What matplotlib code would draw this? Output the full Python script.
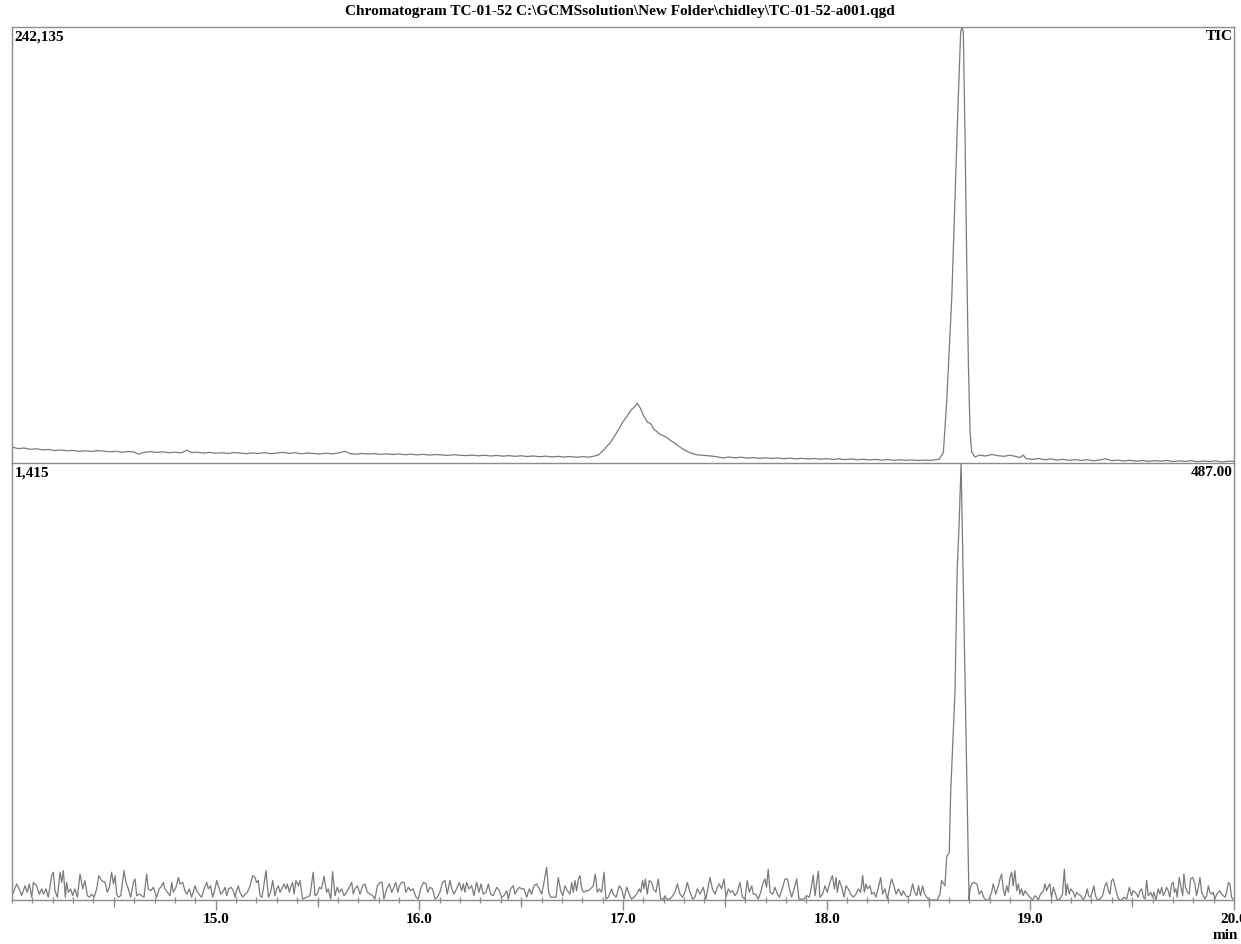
import matplotlib
matplotlib.use("Agg")
import matplotlib.pyplot as plt
from matplotlib.ticker import MultipleLocator, FuncFormatter

# ---------------- data ----------------
title = r"Chromatogram TC-01-52 C:\GCMSsolution\New Folder\chidley\TC-01-52-a001.qgd"
top_label_left = "242,135"
top_label_right = "TIC"
bot_label_left = "1,415"
bot_label_right = "487.00"
x_min, x_max = 14.0, 20.0
top_max = 242135
bot_max = 1415
labelled_ticks = [15.0, 16.0, 17.0, 18.0, 19.0, 20.0]

tic_time = [14.00, 14.03, 14.06, 14.09, 14.12, 14.15, 14.18, 14.21, 14.24, 14.27, 14.30, 14.33, 14.36, 14.39,
            14.42, 14.45, 14.48, 14.51, 14.54, 14.57, 14.60, 14.62, 14.65, 14.68, 14.71, 14.74, 14.77, 14.80,
            14.83, 14.86, 14.88, 14.91, 14.94, 14.97, 15.00, 15.03, 15.06, 15.09, 15.12, 15.15, 15.18, 15.21,
            15.24, 15.27, 15.30, 15.33, 15.36, 15.39, 15.42, 15.45, 15.48, 15.51, 15.54, 15.57, 15.60, 15.635,
            15.66, 15.69, 15.72, 15.75, 15.78, 15.81, 15.84, 15.87, 15.90, 15.93, 15.96, 15.99, 16.02, 16.05,
            16.08, 16.11, 16.14, 16.17, 16.20, 16.23, 16.26, 16.29, 16.32, 16.35, 16.38, 16.41, 16.44, 16.47,
            16.50, 16.53, 16.56, 16.59, 16.62, 16.65, 16.68, 16.71, 16.74, 16.77, 16.80, 16.83, 16.85,
            16.88, 16.91, 16.94, 16.97, 17.00, 17.02, 17.04, 17.06, 17.07, 17.085, 17.10, 17.12, 17.135, 17.15,
            17.18, 17.21, 17.24, 17.26, 17.29, 17.31, 17.33, 17.36, 17.40, 17.43, 17.46, 17.49,
            17.52, 17.55, 17.58, 17.61, 17.64, 17.67, 17.70, 17.73, 17.76, 17.79, 17.82, 17.85, 17.88, 17.91,
            17.94, 17.97, 18.00, 18.03, 18.06, 18.09, 18.12, 18.15, 18.18, 18.21, 18.24, 18.27, 18.30, 18.33,
            18.36, 18.39, 18.42, 18.45, 18.48, 18.51, 18.53,
            18.553, 18.573, 18.590, 18.614, 18.630, 18.646, 18.658, 18.665, 18.671, 18.679, 18.688, 18.696,
            18.704, 18.712, 18.728,
            18.75, 18.78, 18.81, 18.84, 18.87, 18.90, 18.93, 18.95, 18.965, 18.98, 19.01, 19.04, 19.07, 19.10,
            19.13, 19.16, 19.19, 19.22, 19.25, 19.28, 19.31, 19.34, 19.37, 19.40, 19.43, 19.46, 19.49, 19.52,
            19.55, 19.58, 19.61, 19.64, 19.67, 19.70, 19.73, 19.76, 19.79, 19.82, 19.85, 19.88, 19.91, 19.94,
            19.97, 20.00]
tic_int = [8900, 8000, 8300, 7600, 7900, 7300, 7500, 6900, 7200, 6800, 7000, 6500, 6800, 6400,
           6900, 6600, 6200, 6500, 6000, 6400, 6100, 4900, 6000, 6300, 5900, 6200, 5700, 6000,
           5600, 7100, 5800, 6000, 5500, 5900, 5400, 5700, 5300, 5800, 5500, 5200, 5600, 5300,
           5700, 5200, 5500, 5900, 5400, 5700, 5100, 5500, 5300, 5000, 5400, 5100, 5500, 6500,
           5200, 4900, 5300, 5000, 5200, 4800, 5100, 4700, 5000, 4600, 4900, 4500, 4800, 4400,
           4700, 4500, 4200, 4600, 4300, 4100, 4400, 4000, 4300, 3900, 4200, 3800, 4100, 3700,
           4000, 3600, 3900, 3500, 3800, 3400, 3700, 3300, 3600, 3200, 3500, 3300, 3600,
           4500, 7800, 11700, 17000, 23000, 26000, 29500, 31500, 33300, 30500, 26500, 22600, 22000, 19000,
           16100, 14500, 12000, 10500, 8000, 6800, 5600, 4600, 4200, 3900, 3500, 2800,
           3300, 2900, 3200, 2700, 3000, 2600, 2900, 2500, 2800, 2400, 2700, 2300, 2600, 2200,
           2500, 2100, 2400, 2000, 2300, 1900, 2200, 1800, 2100, 1700, 2000, 1600, 1900, 1500,
           1800, 1500, 1700, 1400, 1600, 1500, 1700,
           2200, 5900, 35500, 91100, 146600, 202200, 239400, 242135, 239400, 183800, 109400, 53900,
           17200, 6100, 3300,
           4400, 3900, 4700, 4100, 3700, 4300, 3600, 3000, 4400, 2400, 2000, 2500, 1800, 2300,
           1600, 2100, 1500, 1900, 1400, 1800, 1200, 1700, 2300, 1300, 1600, 1100, 1500, 1000,
           1400, 900, 1300, 1000, 1400, 800, 1200, 900, 1300, 700, 1100, 800, 1200, 600,
           1000, 900]

mz_time = [14.000, 14.003, 14.023, 14.039, 14.047, 14.064, 14.075, 14.085, 14.097, 14.105, 14.121, 14.134,
           14.146, 14.154, 14.167, 14.178, 14.195, 14.203, 14.211, 14.223, 14.236, 14.244, 14.252, 14.262,
           14.268, 14.277, 14.288, 14.298, 14.309, 14.321, 14.334, 14.347, 14.358, 14.370, 14.380, 14.391,
           14.403, 14.416, 14.426, 14.440, 14.457, 14.468, 14.478, 14.489, 14.498, 14.506, 14.514, 14.522,
           14.534, 14.550, 14.560, 14.571, 14.583, 14.596, 14.604, 14.612, 14.625, 14.637, 14.648, 14.661,
           14.669, 14.681, 14.694, 14.702, 14.710, 14.723, 14.735, 14.743, 14.751, 14.763, 14.776, 14.784,
           14.792, 14.805, 14.817, 14.825, 14.838, 14.849, 14.858, 14.871, 14.882, 14.899, 14.907, 14.923,
           14.931, 14.943, 14.956, 14.964, 14.975, 14.985, 14.997, 15.005, 15.013, 15.025, 15.034, 15.046,
           15.054, 15.064, 15.075, 15.087, 15.095, 15.103, 15.111, 15.119, 15.133, 15.144, 15.156, 15.169,
           15.182, 15.193, 15.201, 15.209, 15.218, 15.227, 15.234, 15.247, 15.259, 15.270, 15.280, 15.291,
           15.300, 15.308, 15.316, 15.324, 15.336, 15.345, 15.352, 15.362, 15.368, 15.378, 15.385, 15.394,
           15.406, 15.414, 15.427, 15.447, 15.463, 15.479, 15.488, 15.499, 15.509, 15.520, 15.532, 15.545,
           15.553, 15.565, 15.574, 15.586, 15.597, 15.607, 15.619, 15.630, 15.643, 15.656, 15.668, 15.676,
           15.684, 15.696, 15.709, 15.722, 15.733, 15.745, 15.758, 15.771, 15.782, 15.794, 15.807, 15.817,
           15.826, 15.840, 15.853, 15.864, 15.872, 15.884, 15.894, 15.902, 15.913, 15.925, 15.934, 15.946,
           15.957, 15.970, 15.984, 15.995, 16.006, 16.020, 16.033, 16.041, 16.052, 16.065, 16.077, 16.088,
           16.101, 16.114, 16.126, 16.137, 16.150, 16.160, 16.170, 16.183, 16.196, 16.208, 16.216, 16.224,
           16.232, 16.244, 16.257, 16.268, 16.281, 16.293, 16.303, 16.314, 16.327, 16.339, 16.350, 16.363,
           16.380, 16.393, 16.404, 16.416, 16.429, 16.437, 16.448, 16.461, 16.470, 16.478, 16.491, 16.502,
           16.514, 16.527, 16.540, 16.551, 16.563, 16.576, 16.589, 16.601, 16.612, 16.625, 16.635, 16.645,
           16.658, 16.671, 16.682, 16.694, 16.704, 16.715, 16.727, 16.740, 16.748, 16.756, 16.764, 16.772,
           16.781, 16.789, 16.797, 16.808, 16.818, 16.830, 16.841, 16.854, 16.864, 16.874, 16.884,
           16.895, 16.907, 16.916, 16.928, 16.944, 16.952, 16.966, 16.982, 16.993, 17.005, 17.018, 17.031,
           17.042, 17.054, 17.067, 17.080, 17.087, 17.096, 17.103, 17.110, 17.119, 17.129, 17.141, 17.149,
           17.162, 17.173, 17.185, 17.198, 17.206, 17.214, 17.227, 17.239, 17.255, 17.267, 17.280, 17.293,
           17.304, 17.316, 17.329, 17.342, 17.353, 17.365, 17.378, 17.386, 17.394, 17.407, 17.419, 17.427,
           17.439, 17.452, 17.463, 17.473, 17.484, 17.496, 17.506, 17.517, 17.529, 17.538, 17.550, 17.561,
           17.574, 17.587, 17.599, 17.610, 17.620, 17.632, 17.640, 17.651, 17.664, 17.676, 17.689, 17.697,
           17.705, 17.713, 17.722, 17.735, 17.746, 17.758, 17.768, 17.784, 17.795, 17.807, 17.817, 17.828,
           17.840, 17.853, 17.864, 17.877, 17.889, 17.902, 17.915, 17.926, 17.934, 17.943, 17.951, 17.959,
           17.967, 17.980, 17.992, 18.003, 18.016, 18.028, 18.038, 18.046, 18.052, 18.062, 18.074, 18.085,
           18.095, 18.106, 18.118, 18.131, 18.144, 18.155, 18.167, 18.177, 18.185, 18.193, 18.201, 18.213,
           18.221, 18.232, 18.242, 18.254, 18.265, 18.275, 18.286, 18.298, 18.311, 18.319, 18.330, 18.341,
           18.352, 18.368, 18.376, 18.384, 18.396, 18.409, 18.422, 18.432, 18.442, 18.451, 18.461, 18.471,
           18.481, 18.491, 18.504, 18.523, 18.543, 18.556, 18.564, 18.581, 18.589, 18.602, 18.609, 18.630,
           18.641, 18.650, 18.660, 18.699, 18.704, 18.712, 18.722, 18.738, 18.749, 18.760, 18.771, 18.782,
           18.795, 18.810, 18.818, 18.830, 18.843, 18.851, 18.859, 18.867, 18.875, 18.884, 18.892, 18.900,
           18.908, 18.916, 18.924, 18.933, 18.941, 18.949, 18.957, 18.965, 18.974, 18.985, 18.998, 19.011,
           19.023, 19.031, 19.039, 19.050, 19.064, 19.072, 19.080, 19.090, 19.096, 19.104, 19.113, 19.121,
           19.132, 19.145, 19.158, 19.167, 19.175, 19.181, 19.191, 19.199, 19.211, 19.219, 19.227, 19.235,
           19.247, 19.260, 19.271, 19.280, 19.286, 19.296, 19.306, 19.312, 19.320, 19.329, 19.342, 19.355,
           19.366, 19.375, 19.383, 19.391, 19.399, 19.407, 19.415, 19.427, 19.437, 19.448, 19.460, 19.473,
           19.486, 19.497, 19.505, 19.514, 19.522, 19.530, 19.538, 19.546, 19.555, 19.563, 19.571, 19.579,
           19.591, 19.600, 19.607, 19.617, 19.628, 19.636, 19.645, 19.653, 19.661, 19.669, 19.677, 19.685,
           19.694, 19.702, 19.707, 19.715, 19.721, 19.731, 19.739, 19.748, 19.754, 19.762, 19.771, 19.780,
           19.787, 19.797, 19.808, 19.816, 19.825, 19.833, 19.841, 19.849, 19.857, 19.866, 19.874, 19.882,
           19.890, 19.898, 19.906, 19.915, 19.923, 19.931, 19.939, 19.947, 19.956, 19.964, 19.972, 19.980,
           19.988, 19.996]
mz_int = [19, 19, 52, 30, 14, 46, 25, 52, 9, 57, 46, 19,
          36, 19, 36, 9, 79, 90, 30, 9, 90, 57, 95, 9,
          57, 25, 36, 14, 36, 9, 84, 36, 63, 14, 9, 19,
          9, 36, 79, 63, 57, 25, 41, 90, 52, 79, 19, 9,
          14, 95, 57, 36, 9, 57, 68, 14, 19, 14, 9, 84,
          36, 30, 41, 25, 9, 36, 46, 57, 36, 25, 14, 57,
          25, 41, 73, 52, 57, 30, 19, 36, 9, 46, 30, 14,
          9, 36, 57, 36, 46, 9, 36, 63, 46, 19, 25, 41,
          14, 36, 41, 30, 9, 30, 46, 25, 9, 19, 25, 46,
          79, 73, 57, 63, 14, 9, 36, 95, 9, 25, 63, 14,
          36, 46, 25, 36, 52, 36, 52, 25, 41, 57, 19, 63,
          46, 63, 3, 9, 14, 90, 14, 19, 41, 36, 77, 25,
          36, 3, 92, 14, 41, 25, 36, 14, 25, 41, 57, 19,
          36, 46, 19, 46, 52, 25, 19, 14, 3, 46, 57, 57,
          3, 36, 52, 25, 36, 57, 25, 46, 57, 57, 25, 41,
          30, 36, 9, 3, 36, 57, 52, 25, 41, 36, 3, 9,
          25, 57, 63, 19, 63, 36, 19, 36, 57, 30, 52, 25,
          57, 36, 46, 14, 57, 25, 52, 19, 25, 52, 19, 14,
          41, 30, 9, 14, 30, 3, 36, 46, 19, 30, 41, 36,
          36, 9, 36, 19, 46, 52, 36, 19, 57, 106, 25, 9,
          9, 9, 73, 30, 14, 46, 30, 19, 57, 25, 63, 30,
          68, 79, 36, 25, 30, 30, 36, 46, 84, 25, 36,
          25, 90, 3, 9, 36, 19, 9, 46, 36, 3, 41, 19,
          3, 9, 19, 36, 25, 63, 36, 68, 19, 63, 57, 36,
          25, 68, 3, 3, 14, 3, 3, 9, 25, 52, 19, 9,
          25, 57, 25, 3, 9, 36, 19, 30, 41, 3, 46, 73,
          36, 19, 41, 52, 36, 68, 9, 36, 25, 30, 14, 25,
          57, 9, 3, 63, 25, 46, 19, 19, 3, 25, 57, 68,
          41, 100, 25, 19, 41, 19, 9, 41, 68, 68, 36, 9,
          36, 68, 3, 3, 3, 14, 9, 46, 81, 14, 57, 93,
          9, 19, 46, 25, 57, 79, 36, 73, 25, 63, 41, 9,
          46, 36, 19, 9, 19, 36, 25, 79, 25, 52, 36, 46,
          19, 25, 9, 41, 73, 19, 36, 3, 46, 68, 46, 19,
          36, 14, 30, 19, 9, 14, 52, 25, 14, 46, 14, 46,
          19, 9, 0, 0, 0, 19, 63, 46, 139, 155, 350, 673,
          1072, 1211, 1415, 0, 36, 52, 57, 52, 19, 30, 9, 0,
          0, 25, 52, 19, 46, 68, 84, 36, 14, 46, 25, 73,
          90, 46, 95, 30, 52, 19, 36, 14, 30, 19, 9, 0,
          14, 9, 0, 19, 30, 52, 30, 46, 52, 9, 41, 25,
          0, 3, 19, 100, 14, 52, 19, 36, 25, 9, 25, 19,
          14, 0, 14, 36, 14, 9, 30, 46, 14, 0, 3, 14,
          46, 57, 30, 19, 63, 68, 46, 14, 0, 0, 9, 3,
          41, 14, 30, 25, 19, 9, 30, 36, 9, 3, 63, 14,
          25, 9, 25, 0, 36, 19, 41, 14, 25, 41, 30, 9,
          52, 57, 25, 36, 9, 73, 46, 14, 84, 41, 25, 19,
          68, 73, 52, 14, 41, 73, 25, 14, 3, 14, 46, 25,
          19, 25, 3, 19, 25, 30, 19, 14, 9, 25, 57, 52,
          9, 3]

# ---------------- style ----------------
plt.rcParams['font.family'] = ['Liberation Serif', 'DejaVu Serif']
plt.rcParams['font.weight'] = 'bold'
line_col = '#7a7a7a'
frame_col = '#8c8c8c'
fs = 11

W, H = 1241, 945
fig = plt.figure(figsize=(W / 100, H / 100), dpi=100)
left, right = 12 / W, 1234 / W
y_top, y_mid, y_bot = 28 / H, 464 / H, 901 / H
ax1 = fig.add_axes([left, 1 - y_mid, right - left, y_mid - y_top])
ax2 = fig.add_axes([left, 1 - y_bot, right - left, y_bot - y_mid])
ax2.patch.set_alpha(0)
ax1.patch.set_alpha(0)

ax1.plot(tic_time, tic_int, color=line_col, lw=0.9)
ax2.plot(mz_time, mz_int, color=line_col, lw=0.9)

ax1.set_xlim(x_min, x_max)
ax2.set_xlim(x_min, x_max)
ax1.set_ylim(0, top_max)
ax2.set_ylim(0, bot_max)

for ax in (ax1, ax2):
    ax.set_yticks([])
    for s in ax.spines.values():
        s.set_color(frame_col)
        s.set_linewidth(1.0)
ax1.set_xticks([])
ax1.spines['bottom'].set_visible(False)
ax2.spines['top'].set_visible(True)

ax2.set_xticks(labelled_ticks)
ax2.xaxis.set_minor_locator(MultipleLocator(0.1))
ax2.xaxis.set_major_formatter(FuncFormatter(lambda v, p: f"{v:.1f}"))
ax2.tick_params(axis='x', which='major', direction='out', length=7, width=1.0,
                color=frame_col, labelsize=fs, pad=2)
ax2.tick_params(axis='x', which='minor', direction='inout', length=5, width=0.9, color=frame_col)
for lab in ax2.get_xticklabels():
    lab.set_fontweight('bold')

sec = ax2.secondary_xaxis('bottom')
sec.set_xticks([14.5, 15.5, 16.5, 17.5, 18.5, 19.5])
sec.tick_params(axis='x', direction='out', length=5, width=1.0, color=frame_col, labelbottom=False)
sec.spines['bottom'].set_visible(False)

ax1.text(0.002, 0.995, top_label_left, transform=ax1.transAxes, ha='left', va='top',
         fontsize=fs, fontweight='bold')
ax1.text(0.999, 0.995, top_label_right, transform=ax1.transAxes, ha='right', va='top',
         fontsize=fs, fontweight='bold')
ax2.text(0.002, 0.995, bot_label_left, transform=ax2.transAxes, ha='left', va='top',
         fontsize=fs, fontweight='bold')
ax2.text(0.999, 0.995, bot_label_right, transform=ax2.transAxes, ha='right', va='top',
         fontsize=fs, fontweight='bold')

fig.text(620 / W, 1 - 11 / H, title, ha='center', va='center', fontsize=fs, fontweight='bold')
fig.text(1238 / W, 1 - 936 / H, "min", ha='right', va='center', fontsize=fs, fontweight='bold')

fig.savefig("out.png", dpi=100)
